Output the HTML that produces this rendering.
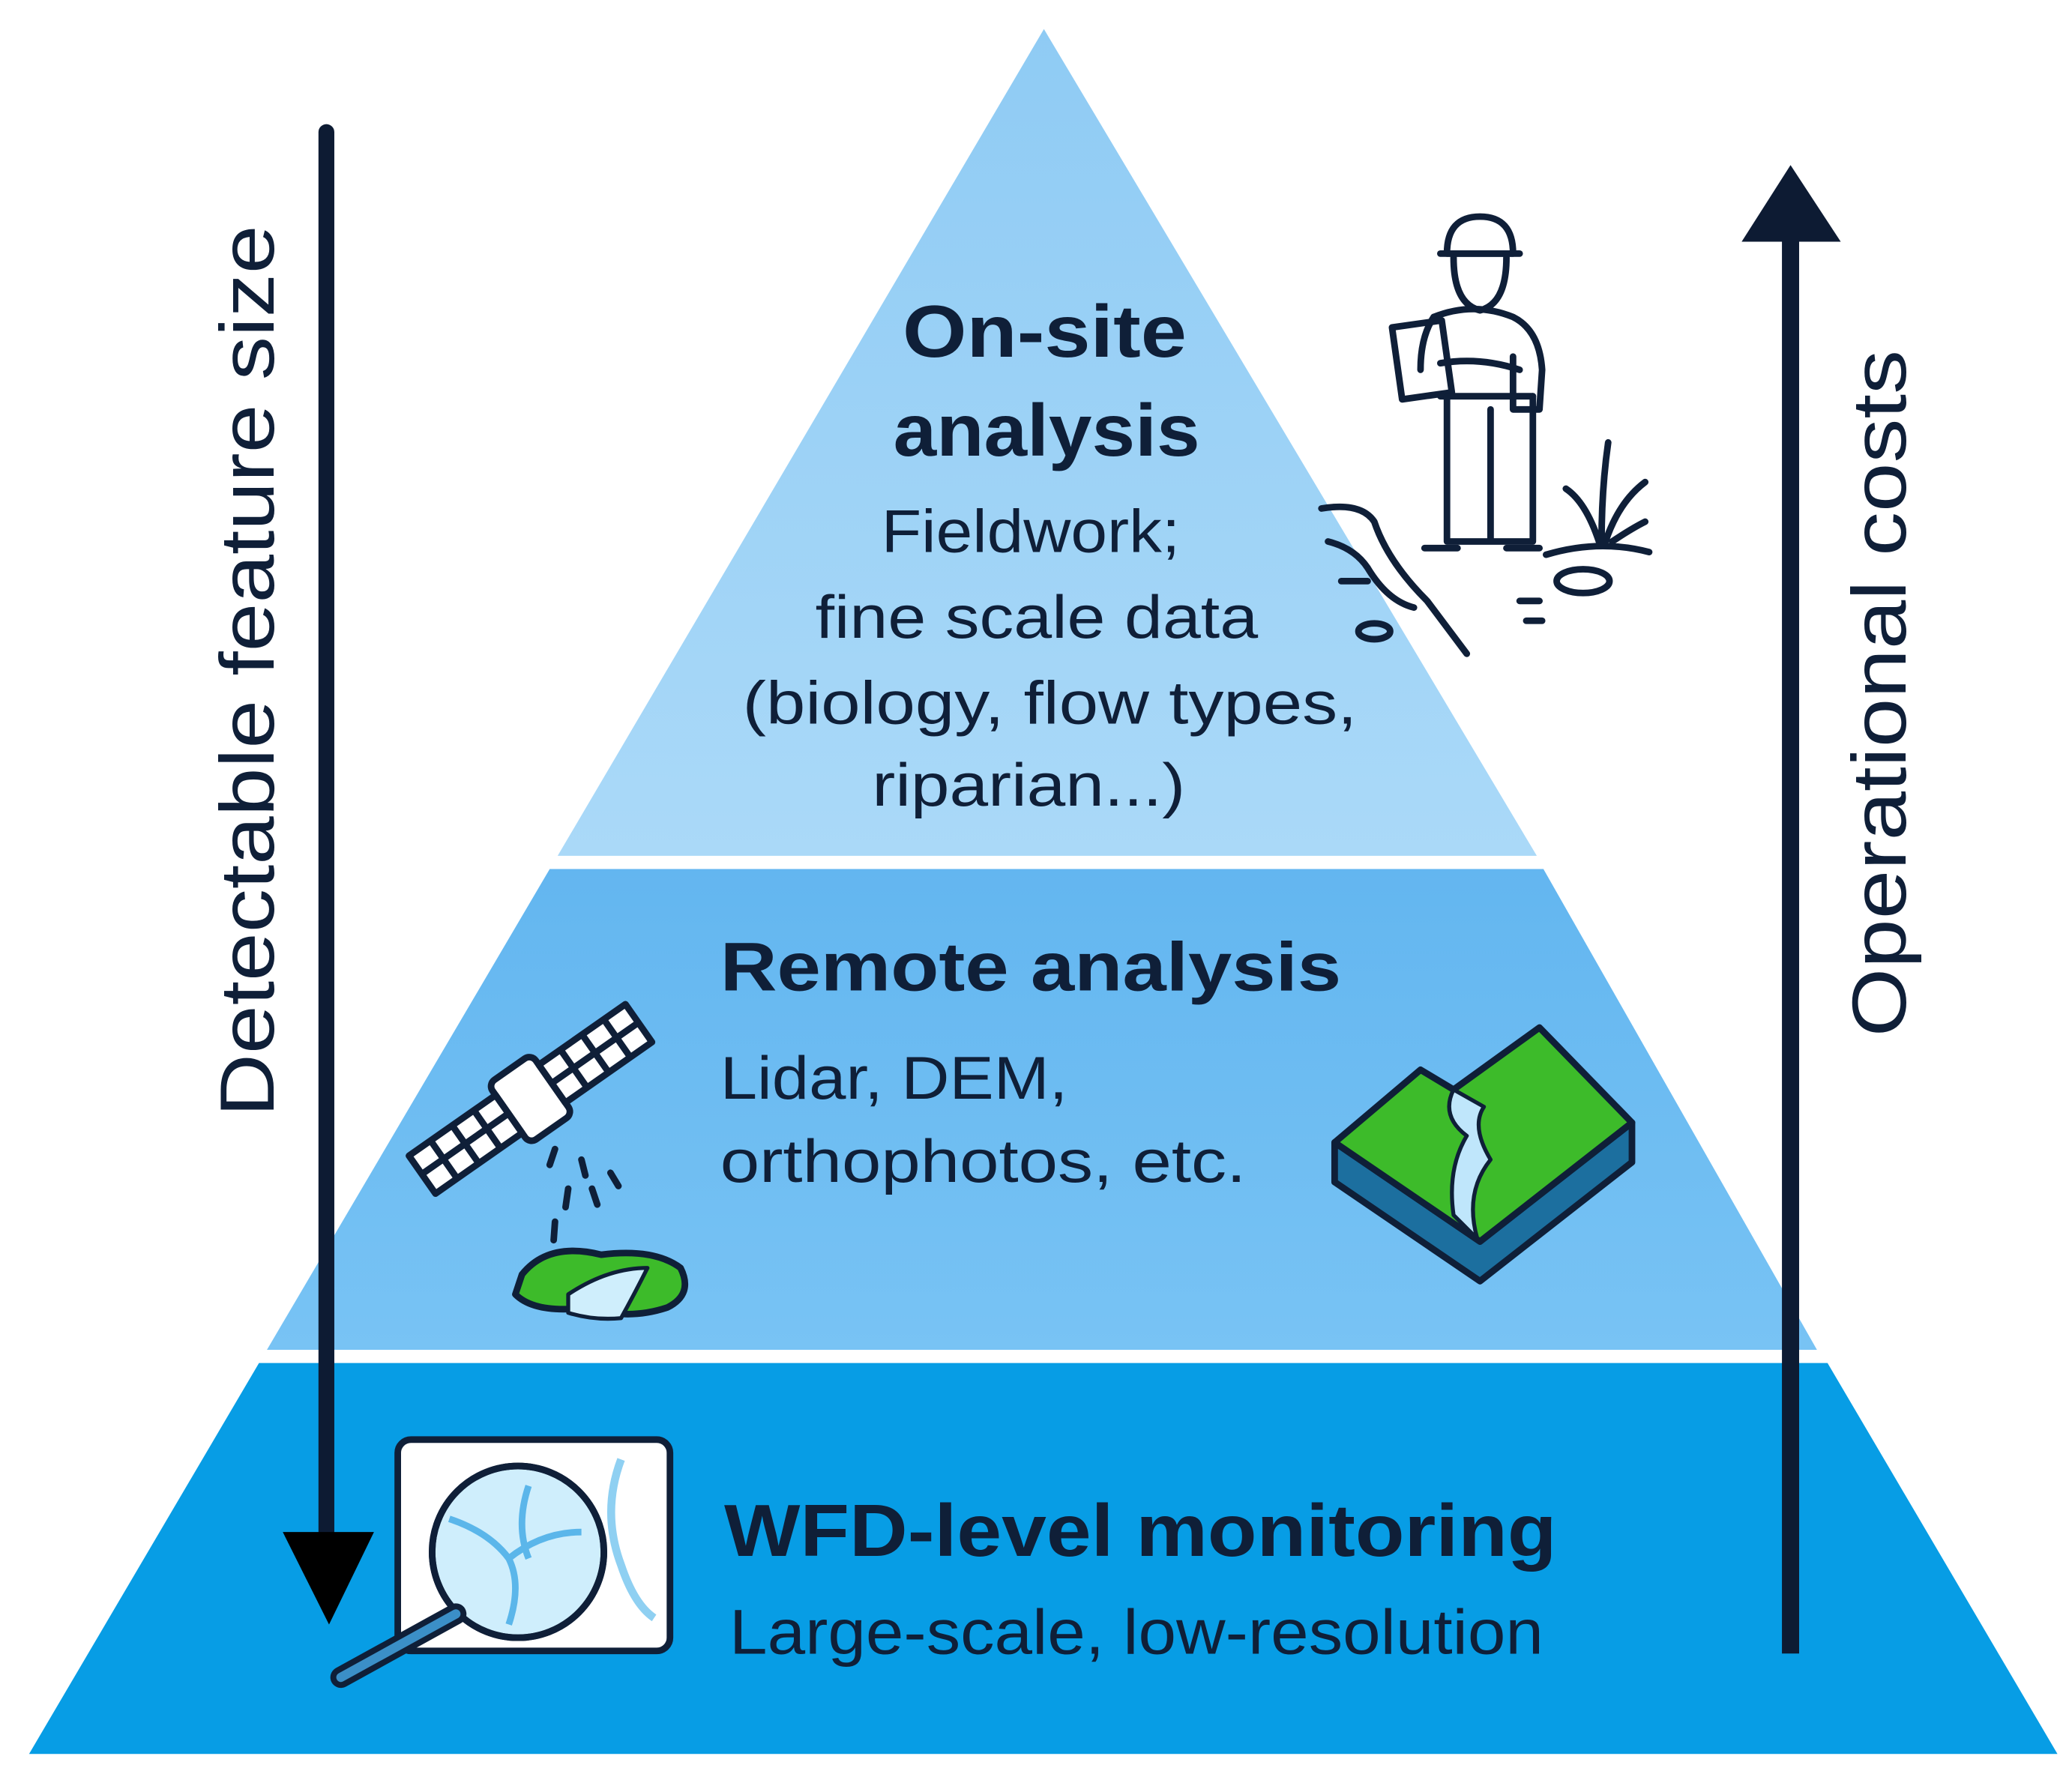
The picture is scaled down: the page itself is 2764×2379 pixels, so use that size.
<!DOCTYPE html>
<html><head><meta charset="utf-8"><style>
html,body{margin:0;padding:0;background:#fff;}
svg{display:block;}
text{font-family:"Liberation Sans",sans-serif;fill:#0f1f38;}
</style></head><body>
<svg width="2764" height="2379" viewBox="0 0 1568 1350" preserveAspectRatio="none" xmlns="http://www.w3.org/2000/svg">
<defs>
<linearGradient id="g1" x1="0" y1="0" x2="0" y2="1"><stop offset="0" stop-color="#8fcbf4"/><stop offset="1" stop-color="#aad9f8"/></linearGradient>
<linearGradient id="g2" x1="0" y1="0" x2="0" y2="1"><stop offset="0" stop-color="#63b6f0"/><stop offset="1" stop-color="#78c3f4"/></linearGradient>
</defs>
<rect width="1568" height="1350" fill="#fff"/>
<!-- pyramid -->
<polygon points="790,22 1163,648 422,648" fill="url(#g1)"/>
<polygon points="416,658 1168,658 1375,1022 202,1022" fill="url(#g2)"/>
<polygon points="196,1032 1383,1032 1557,1328 22,1328" fill="#079de5"/>

<!-- left arrow -->
<line x1="247" y1="100" x2="247" y2="1170" stroke="#0d1b33" stroke-width="12" stroke-linecap="round"/>
<polygon points="214,1160 283,1160 249,1230" fill="#000"/>
<!-- right arrow -->
<line x1="1355" y1="180" x2="1355" y2="1252" stroke="#0d1b33" stroke-width="13"/>
<polygon points="1318,183 1393,183 1355,125" fill="#0d1b33"/>

<!-- vertical labels -->
<text transform="translate(207,508) rotate(-90)" font-size="58" text-anchor="middle" textLength="675" lengthAdjust="spacingAndGlyphs">Detectable feature size</text>
<text transform="translate(1442,525) rotate(-90)" font-size="58" text-anchor="middle" textLength="520" lengthAdjust="spacingAndGlyphs">Operational costs</text>

<!-- top text -->
<text x="683" y="270" font-size="56" font-weight="bold" textLength="215" lengthAdjust="spacingAndGlyphs">On-site</text>
<text x="676" y="345" font-size="56" font-weight="bold" textLength="232" lengthAdjust="spacingAndGlyphs">analysis</text>
<text x="667" y="418" font-size="46" textLength="226" lengthAdjust="spacingAndGlyphs">Fieldwork;</text>
<text x="617" y="483" font-size="46" textLength="335" lengthAdjust="spacingAndGlyphs">fine scale data</text>
<text x="562" y="548" font-size="46" textLength="465" lengthAdjust="spacingAndGlyphs">(biology, flow types,</text>
<text x="660" y="610" font-size="46" textLength="237" lengthAdjust="spacingAndGlyphs">riparian...)</text>

<!-- middle text -->
<text x="545" y="750" font-size="52" font-weight="bold" textLength="470" lengthAdjust="spacingAndGlyphs">Remote analysis</text>
<text x="545" y="832" font-size="46" textLength="263" lengthAdjust="spacingAndGlyphs">Lidar, DEM,</text>
<text x="545" y="895" font-size="46" textLength="398" lengthAdjust="spacingAndGlyphs">orthophotos, etc.</text>

<!-- bottom text -->
<text x="548" y="1178" font-size="56" font-weight="bold" textLength="630" lengthAdjust="spacingAndGlyphs">WFD-level monitoring</text>
<text x="552" y="1252" font-size="48" textLength="616" lengthAdjust="spacingAndGlyphs">Large-scale, low-resolution</text>

<!-- worker icon -->
<g fill="none" stroke="#0f1f38" stroke-width="5" stroke-linecap="round" stroke-linejoin="round">
<path d="M1095,192 q0,-28 25,-28 q25,0 25,28 z"/>
<line x1="1090" y1="192" x2="1150" y2="192"/>
<path d="M1100,195 q0,35 20,40 q20,-5 20,-40"/>
<path d="M1085,240 q30,-12 60,0 q20,10 22,40 l-2,30 h-20 v-40"/>
<path d="M1085,240 q-10,15 -10,40"/>
<rect x="1057" y="245" width="38" height="55" transform="rotate(-8 1076 272)"/>
<path d="M1090,275 q30,-5 60,5"/>
<path d="M1090,300 h70"/>
<path d="M1095,300 v110 M1160,300 v110 M1128,310 v100 M1095,410 h33 M1160,410 h-32"/>
<path d="M1078,415 h25 M1140,415 h25"/>
<path d="M1000,385 q30,-5 40,10 q10,30 40,60 q15,20 30,40"/>
<path d="M1005,410 q20,5 30,20 q15,25 35,30"/>
<path d="M1015,440 h20 M1150,455 h15 M1155,470 h12"/>
<ellipse cx="1040" cy="478" rx="12" ry="6"/>
<ellipse cx="1198" cy="440" rx="20" ry="9"/>
<path d="M1210,410 q-10,-30 -25,-40 M1212,410 q0,-40 5,-75 M1215,410 q10,-30 30,-45 M1220,410 q15,-10 25,-15"/>
<path d="M1170,420 q40,-12 78,-2"/>
</g>

<!-- satellite -->
<g stroke="#0f1f38" stroke-width="5" stroke-linejoin="round">
<g transform="rotate(-35 400 830)">
<rect x="380" y="805" width="40" height="55" rx="6" fill="#fff"/>
<rect x="420" y="815" width="80" height="35" fill="#fff"/>
<rect x="300" y="815" width="80" height="35" fill="#fff"/>
<path d="M440,815 v35 M460,815 v35 M480,815 v35 M420,832 h80 M320,815 v35 M340,815 v35 M360,815 v35 M300,832 h80" fill="none"/>
</g>
<path d="M420,870 l-4,12 M440,878 l3,12 M430,900 l-2,14 M448,900 l4,12 M462,888 l6,10 M420,925 l-1,14" fill="none" stroke-linecap="round"/>
<path d="M395,965 q20,-25 60,-15 q40,-5 60,10 q10,20 -10,30 q-30,10 -60,0 q-40,5 -55,-10 z" fill="#3dbb2a"/>
<path d="M430,980 q30,-20 60,-20 q-10,20 -20,38 q-20,2 -40,-4 z" fill="#cfeefc" stroke-width="3"/>
</g>

<!-- terrain block -->
<g stroke="#0f1f38" stroke-width="5" stroke-linejoin="round">
<polygon points="1010,865 1120,940 1235,850 1235,880 1120,970 1010,895" fill="#1c6f9f"/>
<polygon points="1010,865 1075,810 1100,825 1165,778 1235,850 1120,940" fill="#3dbb2a"/>
<path d="M1100,825 q-10,20 10,35 q-15,25 -10,60 l18,18 q-10,-35 10,-60 q-15,-25 -5,-40 z" fill="#bfe6fb" stroke-width="3"/>
</g>

<!-- magnifier box -->
<g stroke="#0f1f38" stroke-width="5">
<rect x="301" y="1090" width="206" height="160" rx="10" fill="#fff"/>
<path d="M470,1105 q-15,40 0,80 q10,30 25,40" fill="none" stroke="#8fd0f2" stroke-width="6"/>
<circle cx="392" cy="1175" r="65" fill="#cfeefc"/>
<path d="M340,1150 q30,10 45,30 q10,20 0,50 M385,1180 q25,-20 55,-20 M400,1125 q-10,30 0,55" fill="none" stroke="#5bb6ea" stroke-width="5"/>
<circle cx="392" cy="1175" r="65" fill="none"/>
<line x1="345" y1="1222" x2="258" y2="1270" stroke-width="16" stroke-linecap="round"/>
<line x1="345" y1="1222" x2="258" y2="1270" stroke="#3b8fc7" stroke-width="7" stroke-linecap="round"/>
</g>
</svg>
</body></html>
